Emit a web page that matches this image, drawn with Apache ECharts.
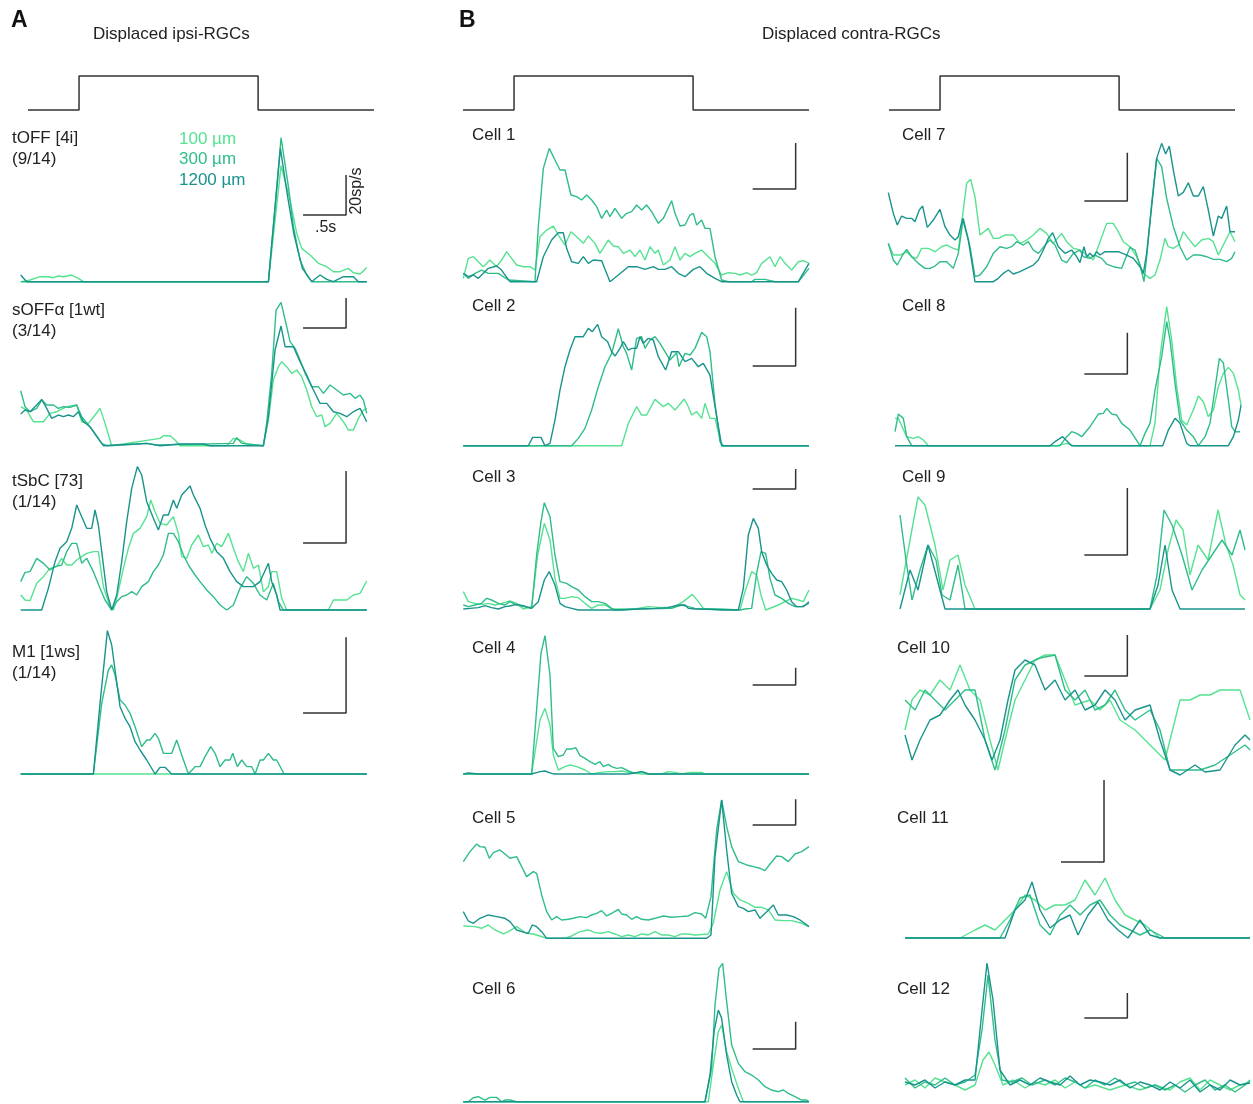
<!DOCTYPE html>
<html><head><meta charset="utf-8">
<script src="https://cdn.jsdelivr.net/npm/echarts@6/dist/echarts.min.js"></script>
<style>html,body{margin:0;background:#fff}#c{width:1253px;height:1104px}</style>
</head><body><div id="c"></div>
<script>
// ---- DATA: [time bin, rate (panel-relative units)] ; 130 bins = 0.5 s ----
const SIZES = ['100 µm', '300 µm', '1200 µm'];
const STIM = [[0,0],[0.59,0],[0.59,1],[2.66,1],[2.66,0],[4,0]];

const tOFF_100 = [[3,0],[28,5],[58,15],[83,15],[98,12],[113,17],[128,15],[153,20],[173,10],[188,0],[743,0],[781,348],[808,245],[828,145],[843,100],[868,80],[893,55],[918,45],[938,30],[958,30],[983,40],[998,27],[1018,23],[1033,37],[1038,43]];
const tOFF_300 = [[0,0],[743,0],[781,432],[803,285],[818,165],[838,65],[858,20],[873,0],[1038,0]];
const tOFF_1200 = [[0,20],[18,0],[743,0],[779,400],[800,260],[820,140],[845,40],[873,0],[898,20],[918,7],[938,0],[968,15],[998,15],[1013,0],[1038,0]];

const sOFF_100 = [[0,117],[18,107],[38,72],[68,72],[88,97],[108,102],[138,117],[168,122],[183,72],[203,67],[223,92],[238,112],[253,67],[273,0],[418,22],[428,30],[448,30],[463,17],[478,0],[618,0],[638,22],[658,17],[678,5],[728,0],[743,77],[758,197],[773,237],[783,252],[798,237],[813,217],[828,227],[843,207],[858,167],[873,117],[888,87],[903,92],[913,57],[928,67],[948,97],[968,72],[983,47],[998,47],[1013,82],[1028,107],[1038,112]];
const sOFF_300 = [[0,165],[13,117],[28,102],[48,112],[63,137],[78,122],[98,122],[113,112],[128,117],[148,115],[168,122],[183,87],[203,62],[223,37],[243,7],[258,0],[348,5],[378,7],[408,2],[638,7],[648,24],[663,7],[728,0],[738,67],[753,217],[766,407],[781,430],[798,357],[808,312],[823,292],[838,257],[853,217],[873,177],[893,177],[908,157],[928,182],[948,167],[968,152],[988,157],[1003,142],[1018,152],[1028,137],[1038,97]];
const sOFF_1200 = [[0,95],[13,107],[28,102],[48,122],[63,139],[78,112],[93,82],[113,92],[128,87],[143,92],[158,87],[173,102],[188,72],[208,57],[228,27],[248,0],[348,5],[378,7],[418,0],[478,5],[548,5],[568,0],[728,0],[743,87],[763,287],[781,359],[793,297],[818,297],[838,252],[858,212],[878,167],[898,127],[918,127],[938,102],[958,97],[978,87],[998,102],[1018,112],[1038,72]];

const tSbC_100 = [[0,45],[13,30],[28,28],[48,80],[68,100],[88,125],[108,130],[123,155],[138,135],[153,135],[168,150],[183,160],[198,170],[218,175],[233,175],[248,70],[268,10],[278,0],[288,35],[308,125],[323,185],[338,230],[358,245],[378,280],[390,330],[403,295],[418,260],[438,255],[458,280],[473,230],[483,160],[498,155],[513,195],[533,225],[548,190],[563,195],[573,170],[588,200],[603,190],[623,230],[638,185],[653,145],[668,115],[683,170],[698,125],[713,135],[728,55],[743,70],[753,115],[768,115],[783,35],[798,0],[923,0],[938,30],[978,30],[998,45],[1018,50],[1038,87]];
const tSbC_300 = [[0,85],[13,113],[28,115],[48,155],[68,140],[88,120],[103,130],[123,135],[138,175],[153,200],[168,200],[183,140],[198,155],[218,115],[238,65],[253,30],[273,0],[288,25],[303,40],[318,45],[333,55],[348,45],[363,70],[383,85],[398,115],[413,135],[428,165],[443,230],[458,230],[473,205],[488,165],[503,135],[523,105],[538,85],[558,60],[578,40],[598,15],[618,0],[638,15],[658,65],[678,100],[698,80],[718,45],[738,30],[758,80],[773,25],[788,0],[1038,0]];
const tSbC_1200 = [[0,0],[63,0],[83,65],[103,145],[118,185],[138,205],[153,245],[168,315],[183,280],[198,245],[213,245],[223,300],[233,255],[243,175],[258,55],[273,0],[288,45],[303,145],[318,265],[333,365],[350,430],[363,405],[378,325],[398,275],[413,240],[428,285],[443,285],[458,330],[468,305],[483,345],[508,372],[518,345],[538,305],[553,255],[568,215],[588,175],[608,155],[628,115],[648,85],[668,70],[698,70],[718,85],[743,140],[753,85],[768,45],[778,0],[1038,0]];

const M1_100 = [[0,0],[1038,0]];
const M1_300 = [[0,0],[218,0],[243,212],[263,312],[273,327],[283,297],[298,222],[313,207],[328,182],[343,142],[363,82],[378,102],[388,102],[403,122],[413,107],[428,62],[453,62],[468,102],[483,57],[503,0],[523,22],[538,22],[553,52],[570,82],[583,62],[598,22],[613,42],[628,42],[636,62],[650,22],[663,42],[678,22],[693,22],[703,0],[718,42],[728,42],[743,62],[758,42],[768,42],[790,0],[1038,0]];
const M1_1200 = [[0,0],[218,0],[238,212],[260,430],[273,387],[283,312],[298,202],[313,167],[328,142],[343,97],[358,72],[378,42],[403,0],[418,20],[433,20],[453,0],[1038,0]];

const c1_100 = [[0,10],[15,70],[30,75],[45,60],[60,45],[80,65],[100,45],[115,65],[130,90],[145,70],[160,50],[180,45],[200,45],[215,35],[230,135],[250,155],[270,167],[285,140],[305,110],[323,150],[340,135],[360,115],[375,137],[395,115],[410,85],[435,125],[450,107],[465,105],[480,85],[500,95],[515,75],[530,95],[545,65],[560,105],[575,85],[585,95],[600,50],[620,65],[635,105],[650,65],[665,85],[680,75],[695,85],[715,95],[735,75],[755,55],[775,20],[795,27],[815,25],[830,20],[850,27],[865,20],[880,27],[895,55],[920,75],[935,45],[950,75],[965,55],[985,35],[1005,60],[1020,63],[1037,55]];
const c1_300 = [[0,25],[15,10],[35,25],[55,35],[75,25],[105,25],[135,5],[215,0],[225,165],[240,340],[258,400],[275,365],[290,335],[305,335],[323,260],[340,255],[355,245],[370,260],[385,245],[400,225],[415,190],[430,215],[440,195],[455,220],[475,190],[490,205],[505,210],[520,230],[535,215],[550,230],[565,210],[585,175],[600,190],[625,243],[635,205],[650,167],[665,170],[680,200],[690,205],[700,170],[715,185],[725,160],[740,160],[755,75],[775,5],[795,0],[865,0],[875,7],[905,7],[935,0],[1005,0],[1037,40]];
const c1_1200 = [[0,25],[15,15],[30,20],[45,10],[60,25],[75,40],[100,47],[115,35],[125,20],[140,0],[220,0],[240,75],[265,125],[285,147],[300,147],[310,100],[325,60],[345,55],[360,75],[375,55],[390,65],[415,63],[440,0],[465,20],[495,45],[520,45],[545,37],[570,45],[585,37],[605,37],[625,45],[645,25],[665,15],[690,37],[710,45],[730,25],[755,10],[775,0],[1005,0],[1037,55]];

const c2_100 = [[0,0],[475,0],[495,67],[520,117],[535,92],[550,92],[575,139],[600,117],[615,127],[635,107],[663,140],[675,117],[685,92],[700,102],[715,82],[725,127],[740,82],[755,82],[775,0],[1037,0]];
const c2_300 = [[0,0],[325,0],[345,22],[365,52],[385,107],[405,177],[425,237],[445,277],[465,351],[480,297],[490,277],[505,227],[520,322],[535,327],[545,292],[560,317],[575,327],[590,307],[605,282],[620,257],[640,279],[647,237],[665,277],[680,272],[695,292],[715,340],[730,327],[740,282],[755,127],[770,12],[780,0],[1037,0]];
const c2_1200 = [[0,0],[195,0],[208,25],[233,25],[245,0],[260,7],[275,77],[290,167],[305,237],[320,287],[335,327],[360,327],[375,352],[387,342],[403,364],[415,327],[433,312],[445,282],[455,269],[470,292],[480,312],[495,287],[505,292],[520,292],[530,327],[540,307],[555,322],[570,317],[585,267],[607,227],[625,282],[645,282],[665,252],[685,262],[705,237],[720,247],[740,212],[755,117],[775,0],[1037,0]];

const c3_100 = [[0,55],[15,25],[35,20],[55,17],[75,20],[95,15],[115,20],[140,27],[160,20],[180,3],[205,10],[223,165],[243,260],[260,210],[275,95],[290,35],[305,35],[325,40],[345,37],[365,20],[385,5],[405,15],[425,15],[445,3],[515,3],[555,10],[595,7],[635,10],[660,25],[687,47],[705,25],[720,5],[775,3],[830,0],[845,55],[865,115],[880,105],[893,45],[907,0],[945,15],[965,25],[985,35],[1005,30],[1020,25],[1037,60]];
const c3_300 = [[0,15],[15,10],[35,15],[55,20],[70,35],[85,30],[105,20],[125,15],[140,25],[160,15],[180,10],[205,5],[220,165],[233,265],[243,322],[260,280],[275,165],[290,85],[310,80],[325,70],[345,60],[365,40],[385,25],[405,25],[425,20],[445,5],[455,0],[525,3],[625,5],[640,10],[655,15],[675,10],[695,5],[775,0],[830,0],[845,3],[865,5],[880,110],[893,175],[907,170],[920,95],[935,45],[955,35],[975,20],[995,10],[1015,10],[1037,20]];
const c3_1200 = [[0,3],[20,5],[45,7],[65,13],[85,7],[105,3],[125,10],[140,12],[160,17],[180,13],[205,5],[225,25],[243,90],[258,115],[275,75],[290,20],[305,10],[325,5],[345,0],[475,0],[525,3],[575,5],[615,7],[645,15],[665,15],[675,5],[695,3],[825,0],[840,65],[855,225],[870,275],[885,245],[895,175],[910,135],[925,110],[940,90],[955,85],[970,60],[985,25],[1000,10],[1020,10],[1037,25]];

const c4_100 = [[0,0],[205,0],[230,162],[245,197],[260,147],[270,57],[285,12],[305,22],[320,27],[340,22],[365,12],[385,0],[405,4],[435,7],[455,7],[475,9],[495,5],[535,0],[595,0],[615,7],[635,5],[655,0],[680,5],[715,5],[725,0],[1037,0]];
const c4_300 = [[0,0],[205,0],[233,362],[245,415],[260,297],[270,77],[285,52],[300,57],[310,75],[325,75],[337,79],[350,55],[365,47],[380,37],[395,29],[410,37],[420,22],[435,29],[445,22],[460,17],[475,19],[495,9],[515,2],[535,7],[555,0],[1037,0]];
const c4_1200 = [[0,0],[15,3],[45,0],[205,0],[230,7],[245,9],[265,2],[275,0],[495,0],[535,7],[555,0],[1037,0]];

const c5_100 = [[0,37],[35,35],[55,30],[75,40],[95,25],[120,13],[135,20],[160,35],[175,25],[190,15],[210,13],[230,7],[250,0],[305,0],[325,7],[350,20],[375,25],[395,17],[415,15],[435,20],[455,13],[475,5],[495,10],[515,5],[535,13],[555,10],[575,20],[595,10],[615,10],[635,5],[655,13],[675,13],[695,10],[735,13],[750,45],[770,145],[790,200],[810,135],[830,115],[855,105],[875,93],[895,93],[915,85],[935,55],[960,53],[985,53],[1015,45],[1037,35]];
const c5_300 = [[0,230],[20,260],[40,283],[50,275],[65,273],[78,240],[90,257],[110,265],[125,253],[140,240],[160,245],[175,215],[190,185],[210,200],[220,195],[235,130],[250,80],[265,55],[280,65],[295,55],[315,57],[330,60],[350,65],[370,62],[385,70],[400,75],[415,83],[430,67],[445,75],[465,87],[475,73],[490,70],[505,57],[520,65],[535,57],[555,55],[575,60],[600,67],[625,63],[650,65],[675,67],[695,77],[715,73],[727,60],[743,125],[760,325],[775,415],[790,335],[805,275],[825,230],[850,220],[870,215],[890,210],[905,203],[920,223],[940,247],[955,245],[975,230],[995,253],[1015,260],[1037,275]];
const c5_1200 = [[0,80],[15,52],[30,45],[50,60],[75,70],[100,65],[125,60],[140,50],[160,25],[185,17],[195,15],[207,40],[220,35],[235,20],[250,0],[730,0],[743,10],[755,245],[775,415],[790,265],[805,135],[825,95],[840,90],[855,80],[875,85],[890,60],[910,80],[930,100],[945,70],[970,70],[990,65],[1010,55],[1037,35]];

const c6_100 = [[0,0],[735,0],[750,110],[765,210],[775,230],[790,150],[805,100],[825,40],[840,0],[1037,0]];
const c6_300 = [[0,0],[15,0],[30,12],[45,15],[65,5],[80,13],[100,13],[115,0],[125,5],[140,5],[160,0],[725,0],[745,100],[755,290],[767,400],[778,415],[790,300],[805,170],[825,115],[845,90],[865,80],[885,65],[905,45],[925,35],[945,30],[960,35],[975,25],[995,15],[1015,5],[1030,5],[1037,0]];
const c6_1200 = [[0,0],[725,0],[740,80],[753,215],[765,275],[775,250],[790,140],[805,60],[820,20],[830,0],[1037,0]];

const c7_100 = [[0,115],[15,80],[35,80],[55,90],[70,75],[85,70],[100,100],[120,100],[140,90],[160,105],[175,110],[195,100],[210,95],[225,215],[235,295],[247,307],[260,255],[275,140],[300,160],[315,130],[330,130],[350,140],[375,140],[395,115],[415,125],[435,140],[455,160],[475,145],[495,115],[520,145],[535,120],[555,100],[575,95],[595,80],[615,65],[635,120],[655,175],[675,175],[690,150],[705,120],[725,105],[745,75],[765,25],[785,10],[800,20],[815,65],[830,130],[840,105],[855,100],[870,110],[885,150],[900,130],[920,105],[940,125],[960,130],[975,120],[990,80],[1005,110],[1025,150],[1040,120]];
const c7_300 = [[0,115],[15,65],[27,50],[40,75],[55,97],[70,75],[90,55],[110,40],[125,40],[140,47],[155,60],[175,60],[195,40],[210,85],[225,190],[245,105],[260,15],[275,20],[295,45],[315,85],[335,105],[355,100],[370,105],[385,120],[405,110],[420,120],[435,95],[450,85],[475,115],[485,125],[500,110],[520,65],[535,57],[555,85],[575,95],[585,75],[605,70],[620,80],[640,70],[655,53],[675,45],[700,40],[725,103],[740,95],[755,50],[767,0],[775,75],[790,235],[805,370],[820,345],[835,250],[855,165],[875,105],[895,65],[915,80],[935,80],[955,75],[975,67],[995,67],[1015,60],[1030,70],[1040,90]];
const c7_1200 = [[0,267],[15,205],[27,170],[40,197],[55,190],[70,190],[80,180],[93,215],[103,227],[117,163],[135,185],[155,217],[170,165],[185,140],[200,125],[210,135],[223,190],[240,125],[260,0],[315,0],[330,10],[345,25],[360,35],[375,23],[395,30],[415,40],[435,50],[450,65],[465,95],[480,130],[493,147],[510,105],[530,85],[550,95],[565,75],[575,57],[587,105],[595,75],[605,85],[615,75],[625,90],[635,80],[650,90],[690,90],[715,80],[735,70],[755,45],[765,25],[775,85],[790,225],[805,370],[820,415],[832,383],[843,407],[855,335],[870,257],[885,268],[900,297],[915,257],[930,257],[945,285],[960,215],[975,137],[990,197],[1000,190],[1015,227],[1025,150],[1040,150]];

const c8_100 = [[0,82],[10,82],[35,27],[55,22],[70,27],[85,17],[100,0],[485,0],[515,7],[535,0],[765,0],[780,67],[795,267],[815,417],[830,317],[845,177],[860,77],[875,62],[895,107],[910,149],[925,132],[940,87],[955,107],[970,177],[985,217],[1000,235],[1015,217],[1030,167],[1038,122]];
const c8_300 = [[0,42],[10,95],[25,82],[35,27],[50,0],[495,0],[515,27],[530,42],[545,37],[560,27],[585,57],[610,95],[625,97],[635,112],[650,95],[665,92],[680,67],[705,47],[735,0],[750,37],[765,67],[780,167],[800,267],[815,372],[825,317],[840,187],[855,77],[875,47],[895,27],[910,0],[930,27],[945,67],[955,137],[973,262],[985,249],[1000,137],[1010,57],[1020,42],[1035,42]];
const c8_1200 = [[0,0],[465,0],[480,12],[503,27],[515,15],[530,0],[803,0],[820,47],[840,82],[855,67],[875,7],[885,0],[1000,0],[1015,27],[1030,77],[1038,122]];

const c9_100 = [[0,42],[30,207],[54,336],[75,312],[105,192],[129,57],[150,147],[174,162],[195,72],[225,0],[750,0],[780,57],[804,177],[828,267],[849,237],[870,102],[894,192],[924,147],[954,297],[978,192],[999,132],[1020,42],[1035,27]];
const c9_300 = [[0,282],[18,147],[36,27],[60,117],[84,192],[108,147],[126,42],[150,27],[174,132],[195,0],[750,0],[771,102],[792,297],[816,252],[846,162],[876,57],[906,117],[936,162],[966,207],[996,162],[1020,237],[1035,177]];
const c9_1200 = [[0,0],[30,117],[54,57],[84,192],[108,102],[135,0],[750,0],[774,72],[795,192],[816,57],[840,0],[1035,0]];

const c10_100 = [[0,135],[21,225],[45,255],[75,240],[105,285],[135,255],[165,330],[195,255],[225,225],[255,105],[279,15],[300,105],[330,225],[360,285],[390,345],[420,360],[450,360],[480,285],[510,210],[555,225],[585,195],[615,225],[645,165],[690,135],[735,90],[780,45],[825,225],[855,225],[885,240],[915,240],[945,255],[975,255],[1005,255],[1035,165]];
const c10_300 = [[0,225],[30,195],[60,255],[90,225],[120,195],[150,225],[180,255],[210,255],[240,105],[270,15],[300,135],[330,285],[360,330],[405,351],[450,360],[480,255],[510,225],[540,255],[570,195],[600,210],[630,255],[660,195],[690,165],[735,195],[765,135],[795,15],[840,15],[885,15],[930,30],[975,60],[1020,90],[1035,75]];
const c10_1200 = [[0,120],[21,45],[45,105],[75,165],[105,180],[135,225],[159,255],[180,210],[210,165],[240,105],[261,45],[285,105],[309,225],[330,315],[360,345],[390,330],[420,255],[450,285],[480,225],[510,255],[540,195],[570,210],[600,255],[630,225],[660,165],[690,195],[735,210],[765,105],[795,15],[825,0],[870,30],[900,9],[945,15],[990,90],[1020,120],[1035,105]];

const c11_100 = [[0,0],[165,0],[210,24],[240,39],[270,24],[300,54],[330,84],[360,129],[390,114],[420,84],[450,99],[480,99],[510,114],[540,174],[570,129],[600,180],[630,114],[660,69],[690,54],[720,39],[765,0],[1035,0]];
const c11_300 = [[0,0],[285,0],[315,54],[345,120],[375,129],[405,39],[435,9],[465,69],[495,99],[525,69],[555,99],[585,114],[615,69],[645,39],[675,24],[705,9],[735,24],[780,0],[1035,0]];
const c11_1200 = [[0,0],[300,0],[330,84],[360,114],[381,168],[405,84],[435,30],[465,54],[495,69],[519,9],[549,69],[579,108],[609,54],[639,24],[669,0],[705,54],[735,9],[765,0],[1035,0]];

const c12_100 = [[0,30],[30,45],[60,21],[90,51],[120,39],[150,30],[180,15],[210,30],[234,105],[252,129],[270,90],[294,30],[324,45],[360,21],[390,39],[420,30],[450,45],[480,21],[510,39],[540,21],[570,30],[615,15],[660,30],[705,15],[750,30],[795,15],[825,39],[855,51],[885,15],[915,45],[945,30],[975,15],[1005,30],[1035,39]];
const c12_300 = [[0,51],[30,21],[60,39],[90,30],[120,51],[150,30],[180,39],[210,60],[231,195],[249,360],[270,165],[291,45],[321,39],[351,51],[381,30],[420,45],[450,30],[480,51],[510,39],[540,21],[570,45],[600,30],[630,51],[660,30],[690,39],[720,21],[750,30],[780,15],[810,30],[840,9],[870,30],[900,45],[930,15],[960,30],[990,9],[1020,30],[1035,45]];
const c12_1200 = [[0,39],[30,30],[60,45],[90,21],[120,39],[150,30],[180,45],[210,45],[228,225],[246,396],[264,285],[285,75],[315,30],[345,45],[375,30],[405,51],[435,39],[465,30],[495,57],[525,30],[555,45],[585,39],[615,30],[645,45],[675,21],[705,39],[735,30],[765,15],[795,39],[825,21],[855,45],[885,9],[915,30],[945,15],[975,45],[1005,30],[1035,36]];

// ---- LAYOUT ----
const COLORS = ['#55e291', '#2fbd88', '#19948c'];
const HALF_SEC = 129;   // bins per 0.5 s
const PANELS = [
  {lines:['tOFF [4i]','(9/14)'], lx:12, ly:138, left:20.7, base:281.7, sb:[976,200,120], d:[tOFF_100,tOFF_300,tOFF_1200]},
  {lines:['sOFFα [1wt]','(3/14)'], lx:12, ly:310, left:20.7, base:445.7, sb:[976,353,90], d:[sOFF_100,sOFF_300,sOFF_1200]},
  {lines:['tSbC [73]','(1/14)'], lx:12, ly:481, left:20.7, base:610, sb:[976,201,216], d:[tSbC_100,tSbC_300,tSbC_1200]},
  {lines:['M1 [1ws]','(1/14)'], lx:12, ly:652, left:20.7, base:774, sb:[976,183,227], d:[M1_100,M1_300,M1_1200]},
  {lines:['Cell 1'], lx:472, ly:135, left:463.3, base:281.7, sb:[997,278,138], d:[c1_100,c1_300,c1_1200]},
  {lines:['Cell 2'], lx:472, ly:306, left:463.3, base:445.7, sb:[997,239,175], d:[c2_100,c2_300,c2_1200]},
  {lines:['Cell 3'], lx:472, ly:477, left:463.3, base:610, sb:[997,363,60], d:[c3_100,c3_300,c3_1200]},
  {lines:['Cell 4'], lx:472, ly:648, left:463.3, base:774, sb:[997,267,52], d:[c4_100,c4_300,c4_1200]},
  {lines:['Cell 5'], lx:472, ly:818, left:463.3, base:938.3, sb:[997,340,77], d:[c5_100,c5_300,c5_1200]},
  {lines:['Cell 6'], lx:472, ly:989, left:463.3, base:1101.7, sb:[997,158,82], d:[c6_100,c6_300,c6_1200]},
  {lines:['Cell 7'], lx:902, ly:135, left:888.3, base:281.7, sb:[717,242,145], d:[c7_100,c7_300,c7_1200]},
  {lines:['Cell 8'], lx:902, ly:306, left:895, base:445.7, sb:[697,215,124], d:[c8_100,c8_300,c8_1200]},
  {lines:['Cell 9'], lx:902, ly:477, left:900, base:609, sb:[682,162,201], d:[c9_100,c9_300,c9_1200]},
  {lines:['Cell 10'], lx:897, ly:648, left:905, base:775, sb:[667,297,123], d:[c10_100,c10_300,c10_1200]},
  {lines:['Cell 11'], lx:897, ly:818, left:905, base:938, sb:[597,228,246], d:[c11_100,c11_300,c11_1200]},
  {lines:['Cell 12'], lx:897, ly:989, left:905, base:1095, sb:[667,231,75], d:[c12_100,c12_300,c12_1200]}
];
const STIM_LEFTS = [28, 463, 889];

const FONT = '"Liberation Sans", Arial, sans-serif';
const grid = [], xAxis = [], yAxis = [], series = [], graphic = [];
PANELS.forEach((p, i) => {
  grid.push({left: p.left, top: p.base - 160, width: 346.7, height: 160});
  xAxis.push({type:'value', gridIndex:i, min:0, max:1040, show:false});
  yAxis.push({type:'value', gridIndex:i, min:0, max:480, show:false});
  p.d.forEach((arr, k) => series.push({
    type:'line', xAxisIndex:i, yAxisIndex:i, data:arr, showSymbol:false, symbol:'none',
    name: SIZES[k], lineStyle:{color:COLORS[k], width:1.4}, itemStyle:{color:COLORS[k]},
    clip:false, z: 2 + k, silent:true
  }));
  const [sx, sy, sl] = p.sb;
  series.push({type:'line', xAxisIndex:i, yAxisIndex:i, data:[[sx-HALF_SEC, sy],[sx, sy],[sx, sy+sl]],
    symbol:'none', lineStyle:{color:'#333', width:1.5}, clip:false, z:6, silent:true});
  p.lines.forEach((t, j) => graphic.push({type:'text', left:p.lx, top:p.ly + j*21 - 8,
    style:{text:t, font:'17px ' + FONT, fill:'#222'}}));
});
STIM_LEFTS.forEach((l, j) => {
  const gi = PANELS.length + j;
  grid.push({left:l, top:76, width:346, height:34});
  xAxis.push({type:'value', gridIndex:gi, min:0, max:4, show:false});
  yAxis.push({type:'value', gridIndex:gi, min:0, max:1, show:false});
  series.push({type:'line', xAxisIndex:gi, yAxisIndex:gi, data:STIM, symbol:'none',
    lineStyle:{color:'#333', width:1.5}, clip:false, silent:true});
});
graphic.push(
  {type:'text', left:11, top:9, style:{text:'A', font:'bold 23px ' + FONT, fill:'#111'}},
  {type:'text', left:459, top:9, style:{text:'B', font:'bold 23px ' + FONT, fill:'#111'}},
  {type:'text', left:93, top:26, style:{text:'Displaced ipsi-RGCs', font:'17px ' + FONT, fill:'#222'}},
  {type:'text', left:762, top:26, style:{text:'Displaced contra-RGCs', font:'17px ' + FONT, fill:'#222'}},
  {type:'text', left:179, top:131, style:{text:SIZES[0], font:'17px ' + FONT, fill:COLORS[0]}},
  {type:'text', left:179, top:151, style:{text:SIZES[1], font:'17px ' + FONT, fill:COLORS[1]}},
  {type:'text', left:179, top:172, style:{text:SIZES[2], font:'17px ' + FONT, fill:COLORS[2]}},
  {type:'text', left:315, top:220, style:{text:'.5s', font:'16px ' + FONT, fill:'#222'}},
  {type:'text', x:357, y:191, rotation:Math.PI/2, style:{text:'20sp/s', font:'16px ' + FONT, fill:'#222', align:'center', verticalAlign:'middle'}}
);
const chart = echarts.init(document.getElementById('c'));
chart.setOption({animation:false, backgroundColor:'#fff', grid, xAxis, yAxis, series, graphic});
</script></body></html>
